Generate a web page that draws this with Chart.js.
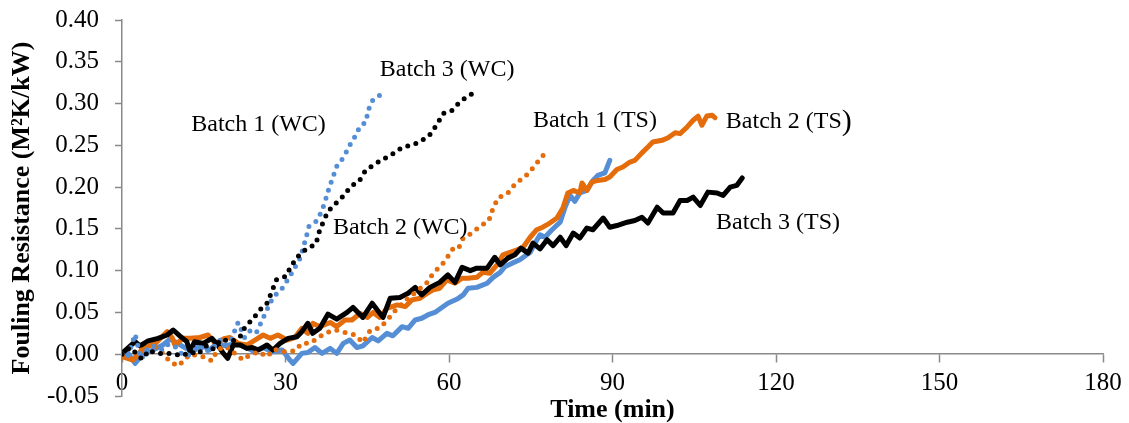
<!DOCTYPE html>
<html>
<head>
<meta charset="utf-8">
<title>Fouling resistance</title>
<script src="https://cdn.jsdelivr.net/npm/chart.js@4.4.1/dist/chart.umd.min.js"></script>
<style>
  html, body { margin: 0; padding: 0; background: #fff; }
  #wrap { width: 1129px; height: 423px; }
</style>
</head>
<body>
<div id="wrap"><canvas id="fouling"></canvas></div>
<script>
// time (min) and fouling resistance (m2K/kW) for each run
const b1tsTime = [0, 1, 2.4, 3.9, 5.7, 7.5, 8.8, 10, 11.5, 13, 14.5, 16, 17.5, 19, 20.7, 22.2, 24, 25.9, 27.5, 29.4, 30.8, 31.4, 33, 34.1, 35.4, 36.7, 38.2, 39.4, 40.6, 41.8, 43.1, 44.2, 45.9, 47, 48.6, 49.7, 51.4, 52.5, 53.8, 55, 56.1, 57.4, 58.7, 59.8, 61.5, 62.6, 63.5, 65.1, 67, 68.1, 69.4, 70.3, 71.6, 73, 74.9, 75.8, 76.7, 77.6, 78.9, 80.4, 81.3, 82.2, 83.1, 84, 85.3, 86.4, 87.3, 88.6, 89.5];
const b1tsRf = [-0.003, 0.002, -0.011, 0.001, 0.005, 0.011, 0.018, 0.014, 0.008, 0.003, 0.012, 0.005, 0.013, 0.010, 0.013, 0.010, 0.004, 0.008, 0.003, 0.005, -0.007, -0.011, 0.001, 0.002, 0.008, 0.001, 0.007, 0.001, 0.013, 0.017, 0.008, 0.010, 0.020, 0.016, 0.025, 0.022, 0.033, 0.031, 0.041, 0.043, 0.047, 0.050, 0.056, 0.061, 0.066, 0.071, 0.079, 0.080, 0.085, 0.092, 0.098, 0.105, 0.109, 0.113, 0.122, 0.133, 0.143, 0.140, 0.149, 0.158, 0.176, 0.190, 0.183, 0.193, 0.196, 0.208, 0.214, 0.217, 0.232];

const b2tsTime = [0, 2, 3.9, 6.1, 8.3, 9.2, 9.7, 11.2, 12.5, 14.3, 15.8, 17.1, 18.9, 19.8, 21.3, 22.9, 24.4, 25.9, 27.2, 28.6, 30.3, 31.7, 33, 34.1, 35, 36.3, 38.2, 39.4, 40.9, 42.2, 43.7, 45, 46.1, 47.3, 48.6, 50.5, 52, 53.2, 54.7, 56, 57.1, 58.3, 59.6, 61.1, 62.4, 63.5, 65.1, 66.2, 67.5, 68.8, 69.9, 71.2, 72.5, 73.6, 74.9, 76.1, 77.2, 78.5, 79.8, 80.9, 81.8, 82.8, 84, 84.4, 85.3, 86.2, 87.3, 88.6, 89.5, 90.8, 91.9, 93.2, 94.1, 95.4, 96.5, 97.4, 99.1, 100.2, 101.5, 102.4, 103.7, 104.8, 105.7, 106.4, 107.3, 108.3, 108.8];
const b2tsRf = [-0.003, -0.007, 0.007, 0.013, 0.027, 0.020, 0.011, 0.019, 0.019, 0.020, 0.023, 0.013, 0.019, 0.020, 0.013, 0.011, 0.017, 0.023, 0.019, 0.023, 0.017, 0.020, 0.031, 0.025, 0.037, 0.033, 0.038, 0.033, 0.041, 0.041, 0.049, 0.044, 0.050, 0.044, 0.055, 0.059, 0.057, 0.065, 0.067, 0.073, 0.077, 0.079, 0.089, 0.085, 0.091, 0.091, 0.092, 0.098, 0.097, 0.107, 0.119, 0.122, 0.125, 0.128, 0.140, 0.149, 0.152, 0.157, 0.163, 0.175, 0.193, 0.196, 0.193, 0.205, 0.196, 0.206, 0.208, 0.209, 0.212, 0.221, 0.224, 0.230, 0.232, 0.241, 0.248, 0.254, 0.256, 0.259, 0.265, 0.264, 0.272, 0.280, 0.285, 0.274, 0.285, 0.286, 0.283];

const b3tsTime = [0, 2.4, 3.3, 4.8, 6.6, 8.3, 9.4, 10.6, 11.9, 12.5, 13.3, 14.9, 16.5, 17.6, 18.5, 19.4, 20.4, 21.7, 22.9, 23.9, 25, 26.6, 27.7, 29, 30.5, 32.1, 33, 34.1, 35, 36.3, 37.8, 39.4, 41.3, 42.4, 44.2, 45.9, 47.9, 49.2, 51, 52.5, 53.8, 55, 56.5, 58.3, 59.8, 61.1, 62.4, 63.9, 65.1, 67, 68.4, 69.4, 70.8, 72.1, 73.2, 74.5, 75.4, 76.7, 78, 79.1, 80.4, 81.5, 82.8, 84, 85.3, 86.4, 88.3, 89.5, 90.8, 92.7, 94.1, 95.4, 96.5, 98.2, 99.3, 101.1, 102.4, 103.7, 104.8, 106.1, 107.5, 109.2, 110.3, 111.6, 112.8, 113.8];
const b3tsRf = [0.001, 0.015, 0.010, 0.016, 0.019, 0.023, 0.029, 0.022, 0.015, 0.003, 0.015, 0.013, 0.019, 0.011, 0.002, -0.005, 0.011, 0.011, 0.007, 0.008, 0.005, 0.011, 0.005, 0.013, 0.019, 0.021, 0.027, 0.037, 0.025, 0.031, 0.048, 0.042, 0.050, 0.056, 0.044, 0.061, 0.044, 0.067, 0.068, 0.073, 0.080, 0.071, 0.080, 0.086, 0.095, 0.086, 0.104, 0.100, 0.103, 0.103, 0.116, 0.107, 0.115, 0.119, 0.127, 0.121, 0.133, 0.126, 0.137, 0.130, 0.140, 0.130, 0.145, 0.139, 0.151, 0.149, 0.163, 0.152, 0.154, 0.158, 0.160, 0.164, 0.157, 0.176, 0.169, 0.169, 0.184, 0.184, 0.188, 0.178, 0.194, 0.193, 0.190, 0.200, 0.202, 0.211];

const b1wcTime = [0, 1, 2.4, 3.5, 4.8, 5.7, 7.5, 8.5, 10, 11, 12, 14.3, 15, 16.5, 18, 19, 20, 21.3, 22.5, 23.5, 24.6, 26.8, 27.7, 29.4, 30.6, 32.7, 33.8, 34.3, 35.8, 36.7, 37.4, 38, 38.7, 39.4, 40.7, 41.7, 42.8, 43.7, 44.8, 45.1, 46, 47.5];
const b1wcRf = [0, -0.004, 0.024, -0.006, 0.008, 0.010, 0.005, 0.012, 0.008, 0, -0.002, 0.010, 0.003, 0.006, 0.017, 0.010, 0.017, 0.038, 0.020, 0.028, 0.025, 0.056, 0.068, 0.079, 0.091, 0.115, 0.140, 0.153, 0.160, 0.172, 0.186, 0.199, 0.212, 0.225, 0.236, 0.249, 0.261, 0.273, 0.278, 0.291, 0.304, 0.311];

const b2wcTime = [0, 2, 3.5, 5.5, 7, 8.8, 10.3, 12.5, 14.8, 16.5, 17.5, 19, 20.5, 22.2, 23, 25, 26.6, 28, 29.4, 31.7, 33, 34.5, 37.2, 39.2, 41, 42.8, 44.2, 45.5, 47.4, 48.8, 50.5, 52.3, 54.2, 56, 57.1, 58.7, 59.8, 60.7, 61.7, 62.6, 64.2, 65.7, 67.3, 68.1, 69, 70.8, 72.3, 73.9, 75.4, 76.5, 77.8];
const b2wcRf = [0, -0.007, 0.005, 0.012, 0.005, -0.009, -0.014, 0, -0.003, -0.008, 0.005, 0.010, 0.002, -0.007, -0.003, 0.003, -0.003, 0.006, 0.003, 0.004, 0.013, 0.013, 0.025, 0.029, 0.026, 0.023, 0.014, 0.028, 0.032, 0.042, 0.055, 0.066, 0.076, 0.086, 0.097, 0.107, 0.117, 0.126, 0.126, 0.139, 0.145, 0.153, 0.160, 0.175, 0.187, 0.193, 0.205, 0.212, 0.223, 0.232, 0.242];

const b3wcTime = [0, 1.5, 3.7, 5, 6.2, 7.7, 9, 11, 12.5, 13.9, 15.4, 16.5, 18.3, 20, 21.6, 22.6, 24, 25.3, 26.6, 27.5, 28.3, 30, 31, 32.1, 33.8, 35.6, 36.1, 36.9, 37.8, 39.3, 40.7, 42, 43.5, 44.6, 46.2, 48.1, 49.7, 51.5, 53.2, 54.9, 56.5, 57.8, 58.9, 60.6, 62, 63.7, 65.5];
const b3wcRf = [0, 0.008, -0.006, 0.005, 0.001, 0.001, 0.001, -0.002, 0.003, 0, 0.010, 0.005, 0.018, 0.015, 0.020, 0.033, 0.042, 0.053, 0.061, 0.075, 0.089, 0.093, 0.105, 0.116, 0.126, 0.132, 0.145, 0.158, 0.171, 0.181, 0.190, 0.201, 0.207, 0.219, 0.227, 0.234, 0.240, 0.248, 0.250, 0.255, 0.263, 0.275, 0.288, 0.292, 0.302, 0.310, 0.315];

const xTicks = [0, 30, 60, 90, 120, 150, 180];
const yTicks = [-0.05, 0, 0.05, 0.1, 0.15, 0.2, 0.25, 0.3, 0.35, 0.4];

// where each run's name sits, in axis units
const runLabels = [
  { text: "Batch 1 (WC)", t: 12.7, rf: 0.275 },
  { text: "Batch 3 (WC)", t: 47.3, rf: 0.341 },
  { text: "Batch 2 (WC)", t: 38.7, rf: 0.152 },
  { text: "Batch 1 (TS)", t: 75.4, rf: 0.279 },
  { text: "Batch 2 (TS", close: ")", t: 110.8, rf: 0.278 },
  { text: "Batch 3 (TS)", t: 109.0, rf: 0.158 },
];

const BLUE = "#558ed5";
const ORANGE = "#e46c0a";
const BLACK = "#000000";
const AXIS = "#898989";
const SERIF = '"Liberation Serif", "Times New Roman", serif';

const pairs = (ts, vs) => ts.map((t, i) => ({ x: t, y: vs[i] }));

const solid = (label, ts, vs, color, order) => ({
  label, data: pairs(ts, vs), borderColor: color, backgroundColor: color,
  borderWidth: 5, pointRadius: 0, tension: 0,
  borderJoinStyle: "round", borderCapStyle: "round", order,
});

const dotted = (label, ts, vs, color, order) => ({
  label, data: pairs(ts, vs), borderColor: color, backgroundColor: color,
  borderWidth: 5, pointRadius: 0, tension: 0,
  borderDash: [0, 8.5], borderCapStyle: "round", borderJoinStyle: "round", order,
});

const labelPlugin = {
  id: "runLabels",
  afterDatasetsDraw(chart) {
    const { ctx, scales: { x, y } } = chart;
    ctx.save();
    ctx.fillStyle = "#000";
    ctx.textBaseline = "middle";
    ctx.textAlign = "left";
    runLabels.forEach((l) => {
      const px = x.getPixelForValue(l.t);
      const py = y.getPixelForValue(l.rf);
      ctx.font = "24px " + SERIF;
      ctx.fillText(l.text, px, py);
      if (l.close) {
        const w = ctx.measureText(l.text).width;
        ctx.font = "30px " + SERIF;
        ctx.fillText(l.close, px + w, py);
      }
    });
    ctx.restore();
  },
};

Chart.defaults.font.family = SERIF;
Chart.defaults.color = "#000";

new Chart(document.getElementById("fouling"), {
  type: "line",
  data: {
    datasets: [
      dotted("Batch 3 (WC)", b3wcTime, b3wcRf, BLACK, 0),
      dotted("Batch 1 (WC)", b1wcTime, b1wcRf, BLUE, 1),
      dotted("Batch 2 (WC)", b2wcTime, b2wcRf, ORANGE, 2),
      solid("Batch 3 (TS)", b3tsTime, b3tsRf, BLACK, 3),
      solid("Batch 2 (TS)", b2tsTime, b2tsRf, ORANGE, 4),
      solid("Batch 1 (TS)", b1tsTime, b1tsRf, BLUE, 5),
    ],
  },
  options: {
    responsive: true,
    maintainAspectRatio: false,
    animation: false,
    devicePixelRatio: 1,
    layout: { padding: { top: 20, right: 26, bottom: 27, left: 0 } },
    plugins: { legend: { display: false }, tooltip: { enabled: false } },
    scales: {
      x: {
        type: "linear",
        position: { y: 0 },
        min: 0,
        max: 180,
        afterBuildTicks: (s) => { s.ticks = xTicks.map((v) => ({ value: v })); },
        border: { color: AXIS, width: 1.5 },
        grid: { drawOnChartArea: false, drawTicks: true, tickLength: 8, color: AXIS, tickWidth: 1.5 },
        ticks: { font: { size: 25 }, padding: 6, maxRotation: 0 },
        title: {
          display: true,
          text: "Time (min)",
          font: { size: 26, weight: "bold" },
          padding: { top: -10, bottom: 0 },
        },
      },
      y: {
        type: "linear",
        position: "left",
        min: -0.05,
        max: 0.4,
        afterBuildTicks: (s) => { s.ticks = yTicks.map((v) => ({ value: v })); },
        // fixed axis width; label overhang handled by the layout padding
        afterFit: (s) => { s.width = 122; s.paddingTop = 0; s.paddingBottom = 0; },
        border: { color: AXIS, width: 1.5 },
        grid: { drawOnChartArea: false, drawTicks: true, tickLength: 7, color: AXIS, tickWidth: 1.5 },
        ticks: { font: { size: 25 }, padding: 16, callback: (v) => v.toFixed(2) },
        title: {
          display: true,
          text: "Fouling Resistance (M²K/kW)",
          font: { size: 26, weight: "bold" },
          padding: { top: 7, bottom: 0 },
        },
      },
    },
  },
  plugins: [labelPlugin],
});
</script>
</body>
</html>
